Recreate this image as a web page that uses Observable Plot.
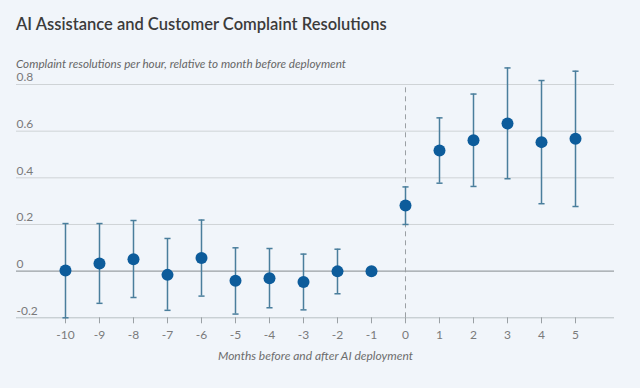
<!DOCTYPE html>
<html>
<head>
<meta charset="utf-8">
<script src="https://cdn.jsdelivr.net/npm/d3@7"></script>
<script src="https://cdn.jsdelivr.net/npm/@observablehq/plot@0.6"></script>
<style>
  html, body { margin: 0; padding: 0; background: #f1f5fa; }
  body { width: 640px; height: 388px; position: relative; overflow: hidden; font-family: Lato, "Noto Sans", sans-serif; }
  #title { position: absolute; left: 16px; top: 15px; font-size: 16.5px; line-height: 18px; font-weight: 600; color: #3b3b3b; white-space: nowrap; z-index: 2; }
  #subtitle { position: absolute; left: 16px; top: 57px; font-size: 11.7px; line-height: 12px; font-style: italic; color: #666; white-space: nowrap; z-index: 2; }
  #chart { position: absolute; left: 0; top: 40px; z-index: 1; }
  #chart svg { overflow: visible; background: transparent; }
</style>
</head>
<body>
<div id="title"></div>
<div id="subtitle"></div>
<div id="chart"></div>
<script>
const titleText = "AI Assistance and Customer Complaint Resolutions";
const subtitleText = "Complaint resolutions per hour, relative to month before deployment";
const xLabel = "Months before and after AI deployment";

const months = [-10, -9, -8, -7, -6, -5, -4, -3, -2, -1, 0, 1, 2, 3, 4, 5];
const estimate = [0.003, 0.033, 0.051, -0.016, 0.056, -0.041, -0.030, -0.047, -0.001, 0, 0.281, 0.517, 0.561, 0.633, 0.553, 0.567];
const lower = [-0.200, -0.138, -0.113, -0.168, -0.107, -0.184, -0.157, -0.166, -0.097, null, 0.200, 0.377, 0.363, 0.396, 0.289, 0.277];
const upper = [0.204, 0.204, 0.217, 0.140, 0.219, 0.100, 0.097, 0.073, 0.094, null, 0.361, 0.657, 0.759, 0.871, 0.817, 0.857];

const yTicks = [-0.2, 0, 0.2, 0.4, 0.6, 0.8];
const yTickLabels = ["-0.2", "0", "0.2", "0.4", "0.6", "0.8"];

document.getElementById("title").textContent = titleText;
document.getElementById("subtitle").textContent = subtitleText;

const data = months.map((m, i) => ({ month: m, est: estimate[i], lo: lower[i], hi: upper[i] }));
const bars = data.filter(d => d.lo != null);
const yLabelData = yTicks.map((v, i) => ({ v, label: yTickLabels[i] }));
const capHalf = 0.09;

const chart = Plot.plot({
  width: 640,
  height: 330,
  marginLeft: 16,
  marginRight: 26,
  marginTop: 44,
  marginBottom: 52.7,
  style: { background: "transparent", fontFamily: "Lato, 'Noto Sans', sans-serif", overflow: "visible" },
  x: { domain: [-11.441, 6.147] },
  y: { domain: [-0.2, 0.8], axis: null },
  marks: [
    Plot.ruleY(yTicks.filter(v => v !== 0 && v !== -0.2), { stroke: "#cfd3d6", strokeWidth: 1 }),
    Plot.ruleY([-0.2], { stroke: "#b8c0c4", strokeWidth: 1 }),
    Plot.ruleY([0], { stroke: "#9a9fa3", strokeWidth: 1.2 }),
    Plot.ruleX([0], { y1: -0.2, y2: 0.8, stroke: "#9a9fa3", strokeWidth: 1, strokeDasharray: "5,4" }),
    Plot.axisX({
      ticks: months,
      tickFormat: d => String(d),
      tickSize: 6,
      tickPadding: 7,
      fontSize: 12,
      color: "#7a7a7a",
      stroke: "#9aa0a4",
      label: null
    }),
    Plot.text(yLabelData, {
      y: "v",
      text: "label",
      frameAnchor: "left",
      textAnchor: "start",
      dy: -7,
      fontSize: 12,
      fill: "#7a7a7a"
    }),
    Plot.text([xLabel], {
      frameAnchor: "bottom",
      dy: 42,
      fontSize: 12,
      fontStyle: "italic",
      fill: "#6d6d6d"
    }),
    Plot.ruleX(bars, { x: "month", y1: "lo", y2: "hi", stroke: "#4a7e9c", strokeWidth: 1.5 }),
    Plot.link(bars, { x1: d => d.month - capHalf, x2: d => d.month + capHalf, y1: "hi", y2: "hi", stroke: "#4a7e9c", strokeWidth: 1.5 }),
    Plot.link(bars, { x1: d => d.month - capHalf, x2: d => d.month + capHalf, y1: "lo", y2: "lo", stroke: "#4a7e9c", strokeWidth: 1.5 }),
    Plot.dot(data, { x: "month", y: "est", r: 6, fill: "#0d5c9b", stroke: "none" })
  ]
});
document.getElementById("chart").appendChild(chart);
</script>
</body>
</html>
